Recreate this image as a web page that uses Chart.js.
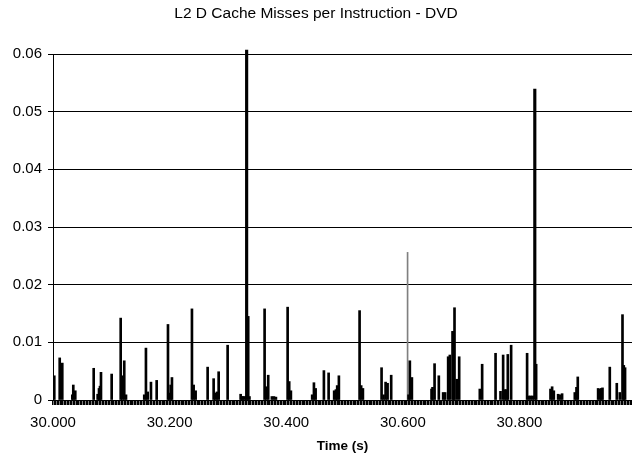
<!DOCTYPE html>
<html>
<head>
<meta charset="utf-8">
<title>L2 D Cache Misses per Instruction - DVD</title>
<script src="https://cdn.jsdelivr.net/npm/chart.js@4/dist/chart.umd.min.js"></script>
<style>
    body { margin: 0; background: #ffffff; }
    #chart { display: block; }
</style>
</head>
<body>
<canvas id="chart" width="632" height="456"></canvas>
<script>
// spikes (time in s, misses per instruction)
const spikeTimes = [
    30.0022, 30.0115, 30.0159, 30.0331, 30.0348, 30.0382, 30.0698, 30.0766, 30.0789, 30.0806,
    30.0823, 30.1006, 30.1161, 30.1188, 30.1222, 30.1252, 30.1565, 30.1594, 30.1624, 30.1680,
    30.1778, 30.1972, 30.1994, 30.2018, 30.2040, 30.2383, 30.2412, 30.2446, 30.2652, 30.2755,
    30.2782, 30.2812, 30.2841, 30.2995, 30.3218, 30.3235, 30.3257, 30.3283, 30.3309, 30.3348,
    30.3369, 30.3629, 30.3657, 30.3691, 30.3754, 30.3789, 30.3823, 30.4024, 30.4051, 30.4080,
    30.4445, 30.4475, 30.4504, 30.4646, 30.4727, 30.4822, 30.4852, 30.4874, 30.4903, 30.5258,
    30.5285, 30.5315, 30.5635, 30.5669, 30.5704, 30.5738, 30.5800, 30.6098, 30.6120, 30.6155,
    30.6492, 30.6509, 30.6544, 30.6617, 30.6691, 30.6725, 30.6777, 30.6806, 30.6852, 30.6869,
    30.6886, 30.6926, 30.6966, 30.7320, 30.7360, 30.7590, 30.7675, 30.7720, 30.7749, 30.7778,
    30.7800, 30.7857, 30.8131, 30.8160, 30.8195, 30.8229, 30.8286, 30.8532, 30.8560, 30.8589,
    30.8663, 30.8697, 30.8731, 30.8949, 30.8978, 30.9000, 30.9349, 30.9378, 30.9403, 30.9424,
    30.9549, 30.9669, 30.9721, 30.9767, 30.9789, 30.9811
];
const spikeValues = [
    0.0042, 0.0073, 0.0064, 0.0009, 0.0026, 0.0016, 0.0055, 0.0010, 0.0020, 0.0024,
    0.0048, 0.0045, 0.0142, 0.0042, 0.0068, 0.0009, 0.0009, 0.0090, 0.0014, 0.0031,
    0.0034, 0.0131, 0.0012, 0.0026, 0.0039, 0.0158, 0.0026, 0.0016, 0.0057, 0.0037,
    0.0012, 0.0014, 0.0049, 0.0095, 0.0010, 0.0006, 0.0006, 0.0006, 0.0006, 0.0145,
    0.0006, 0.0158, 0.0023, 0.0043, 0.0006, 0.0006, 0.0005, 0.0161, 0.0032, 0.0016,
    0.0009, 0.0030, 0.0020, 0.0051, 0.0047, 0.0016, 0.0018, 0.0025, 0.0042, 0.0155,
    0.0025, 0.0020, 0.0056, 0.0009, 0.0031, 0.0029, 0.0043, 0.0009, 0.0068, 0.0039,
    0.0019, 0.0022, 0.0063, 0.0042, 0.0013, 0.0013, 0.0075, 0.0078, 0.0119, 0.0119,
    0.0160, 0.0036, 0.0075, 0.0019, 0.0062, 0.0081, 0.0015, 0.0078, 0.0018, 0.0018,
    0.0079, 0.0095, 0.0081, 0.0007, 0.0007, 0.0007, 0.0062, 0.0019, 0.0023, 0.0016,
    0.0010, 0.0009, 0.0011, 0.0013, 0.0022, 0.0040, 0.0020, 0.0019, 0.0020, 0.0021,
    0.0057, 0.0029, 0.0013, 0.0148, 0.0060, 0.0056
];
const peakTimes = [30.3321, 30.8263];
const peakValues = [0.0607, 0.0539];
const thinTimes = [30.6081];
const thinValues = [0.0256];

const yTicks = [0, 0.01, 0.02, 0.03, 0.04, 0.05, 0.06];
const xLabels = ['30.000', '30.200', '30.400', '30.600', '30.800'];

const xMin = 30.0;
const xMax = 30.993;

function toPoints(times, values) {
    return times.map((t, i) => ({ x: t, y: values[i] }));
}

const font = 'Liberation Sans, Arial, Helvetica, sans-serif';

new Chart(document.getElementById('chart').getContext('2d'), {
    type: 'bar',
    data: {
        datasets: [
            {
                data: toPoints(spikeTimes, spikeValues),
                backgroundColor: '#000000',
                barThickness: 2,
                grouped: false,
            },
            {
                data: toPoints(thinTimes, thinValues),
                backgroundColor: '#808080',
                barThickness: 1,
                grouped: false,
            },
            {
                data: toPoints(peakTimes, peakValues),
                backgroundColor: '#000000',
                barThickness: 2.5,
                grouped: false,
                clip: false,
            },
        ],
    },
    options: {
        responsive: false,
        animation: false,
        layout: { padding: 0, autoPadding: false },
        plugins: {
            legend: { display: false },
            tooltip: { enabled: false },
            title: {
                display: true,
                text: 'L2 D Cache Misses per Instruction - DVD',
                color: '#000000',
                font: { family: font, size: 15.5, weight: 'normal' },
                padding: { top: 4.5, bottom: 30.9 },
            },
        },
        scales: {
            x: {
                type: 'linear',
                min: xMin,
                max: xMax,
                offset: false,
                grid: {
                    offset: false,
                    drawOnChartArea: false,
                    drawTicks: true,
                    tickLength: 5,
                    color: '#000000',
                    tickColor: '#000000',
                    lineWidth: 1.5,
                    tickWidth: 1.5,
                },
                border: { display: true, color: '#000000', width: 1 },
                ticks: {
                    stepSize: 0.0025,
                    includeBounds: false,
                    autoSkip: false,
                    maxRotation: 0,
                    minRotation: 0,
                    padding: 9,
                    color: '#000000',
                    font: { family: font, size: 15 },
                    callback: (value) => {
                        const label = Number(value).toFixed(3);
                        return xLabels.includes(label) ? label : '';
                    },
                },
                title: {
                    display: true,
                    text: 'Time (s)',
                    color: '#000000',
                    font: { family: font, size: 13.5, weight: 'bold' },
                    padding: { top: 0, bottom: 2 },
                },
                afterFit: (scale) => {
                    scale.height = 56;
                    scale.paddingLeft = 0;
                    scale.paddingRight = 0;
                },
            },
            y: {
                min: 0,
                max: 0.06,
                grid: {
                    color: '#000000',
                    lineWidth: 1,
                    tickLength: 5,
                },
                border: { display: true, color: '#000000', width: 1 },
                afterBuildTicks: (scale) => {
                    scale.ticks = yTicks.map((v) => ({ value: v }));
                },
                ticks: {
                    padding: 6,
                    color: '#000000',
                    font: { family: font, size: 15 },
                    callback: (value) => (value === 0 ? '0' : Number(value).toFixed(2)),
                },
                afterFit: (scale) => { scale.width = 53; },
            },
        },
    },
});
</script>
</body>
</html>
